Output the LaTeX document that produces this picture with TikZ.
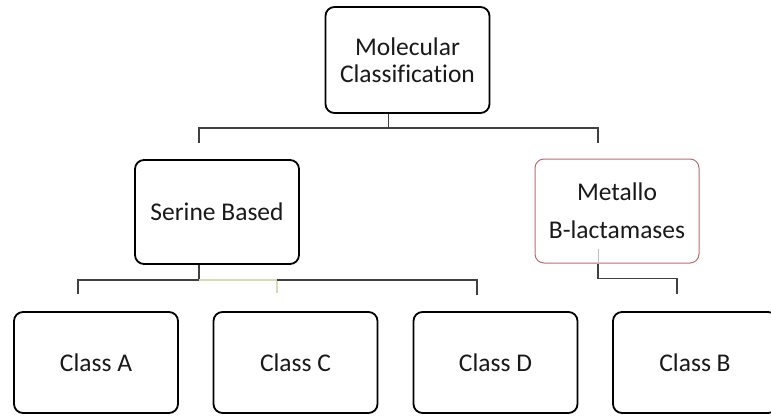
\documentclass[tikz,border=0pt]{standalone}
\usepackage{fontspec}
\setmainfont[Ligatures=CommonOff]{Carlito}
\usepackage{tikz}

\definecolor{rimred}{RGB}{185,110,110}
\definecolor{paleolive}{RGB}{215,220,180}

\begin{document}
\begin{tikzpicture}[x=1pt,y=-1pt]
\tikzstyle{box}=[draw=black,line width=1.8pt,rounded corners=9pt,minimum width=164pt,align=center,text=black!90,font=\fontsize{25.5}{27}\selectfont]
\tikzstyle{link}=[draw=black!75,line width=1.2pt]
\useasboundingbox (0,0) rectangle (771,415);
\clip (0,0) rectangle (771,415);

\node[box,minimum height=106pt] (N1) at (407.5,60) {Molecular\\Classification};
\node[box,minimum height=104pt] (N2) at (217,212) {Serine Based};
\node[box,minimum height=104pt,draw=rimred,line width=1pt] (N3) at (617,211) {Metallo\\[11pt]B-lactamases};
\node[box,minimum height=101pt] (N4) at (96,362.5) {Class A};
\node[box,minimum height=101pt] (N5) at (295.5,362.5) {Class C};
\node[box,minimum height=101pt] (N6) at (495.5,362.5) {Class D};
\node[box,minimum height=101pt] (N7) at (695,362.5) {Class B};

% loose ends of the drops
\coordinate (T1) at (199,143);
\coordinate (T2) at (598,143);
\coordinate (T4) at (78,294);
\coordinate (T5) at (277,293);
\coordinate (T6) at (477,295);
\coordinate (T7) at (677,294);

% top level
\draw[link] ([xshift=-19pt]N1.south) -- ++(0,14) coordinate (b1);
\draw[link] (T1) |- (b1) -| (T2);

% serine based
\draw[link] ([xshift=-18pt]N2.south) -- ++(0,15) coordinate (b2);
\draw[link] (T4) |- (b2);
\draw[draw=paleolive,line width=1.2pt] (b2) -| (T5);
\draw[link] (T5 |- b2) -| (T6);

% metallo
\draw[draw=black!25,line width=1pt] ([xshift=-19pt,yshift=15pt]N3.south) -- ([xshift=-19pt]N3.south);
\draw[link] ([xshift=-19pt]N3.south) -- ++(0,15) -| (T7);
\end{tikzpicture}
\end{document}
